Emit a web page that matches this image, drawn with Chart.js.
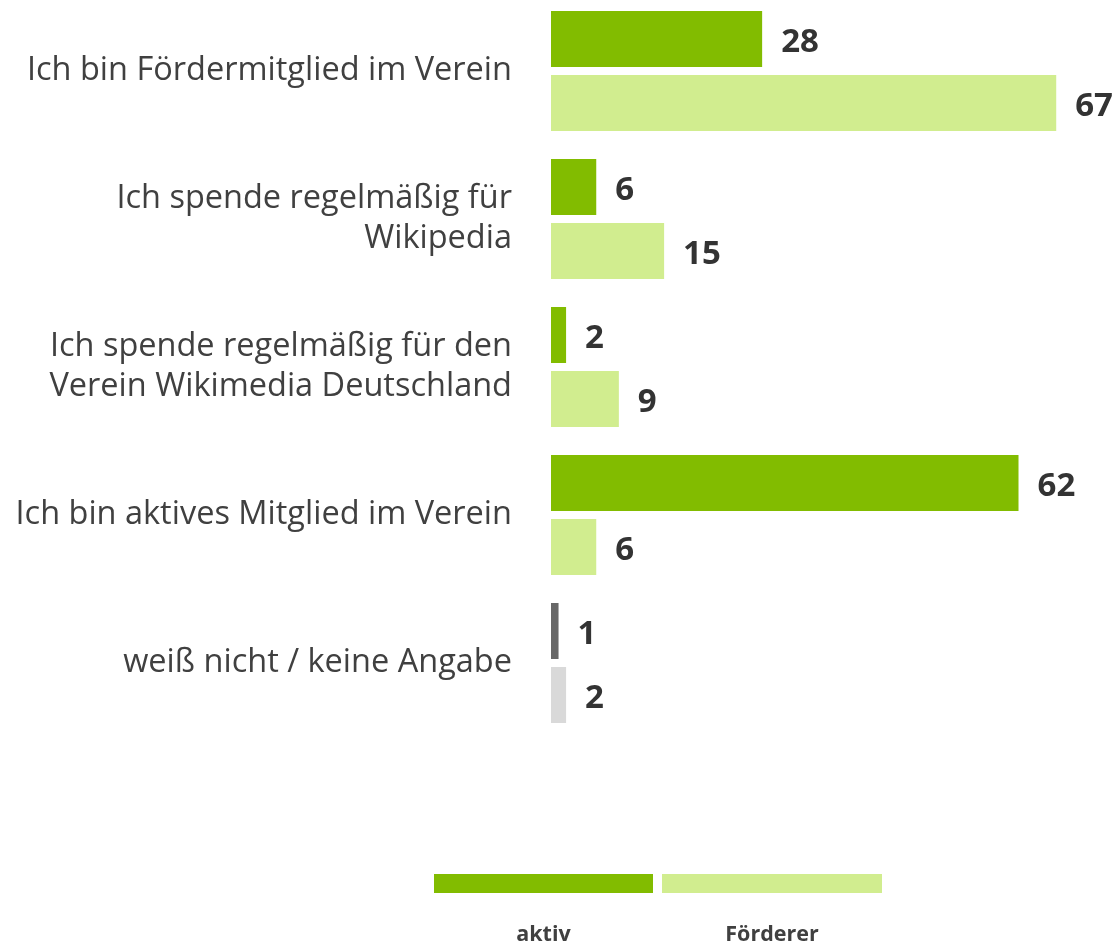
<!DOCTYPE html>
<html><head><meta charset="utf-8">
<script src="https://cdn.jsdelivr.net/npm/chart.js@4"></script>
<style>
html,body{margin:0;padding:0;background:#fff;width:1118px;height:944px;overflow:hidden;position:relative;font-family:"Open Sans",sans-serif;}
#wrap{position:absolute;left:0;top:-3px;width:1118px;height:947px;}
.lg{position:absolute;}
.lgt{position:absolute;font-weight:bold;font-size:21.5px;color:#404040;text-align:center;}
</style></head><body>
<div id="wrap"><canvas id="c" width="1118" height="947"></canvas></div>
<script>
const categories = [
  "Ich bin Fördermitglied im Verein",
  ["Ich spende regelmäßig für", "Wikipedia"],
  ["Ich spende regelmäßig für den", "Verein Wikimedia Deutschland"],
  "Ich bin aktives Mitglied im Verein",
  "weiß nicht / keine Angabe"
];
const seriesNames = ["aktiv", "Förderer"];
const aktiv = [28, 6, 2, 62, 1];
const foerderer = [67, 15, 9, 6, 2];
const aktivColors = ["#82BC00","#82BC00","#82BC00","#82BC00","#676767"];
const foerdererColors = ["#D1ED8F","#D1ED8F","#D1ED8F","#D1ED8F","#D9D9D9"];

const valueLabels = {
  id: 'valueLabels',
  afterDatasetsDraw(chart) {
    const ctx = chart.ctx;
    ctx.save();
    ctx.font = 'bold 33px "Open Sans"';
    ctx.fillStyle = '#333333';
    ctx.textAlign = 'left';
    ctx.textBaseline = 'middle';
    chart.data.datasets.forEach((ds, i) => {
      chart.getDatasetMeta(i).data.forEach((bar, j) => {
        ctx.fillText(String(ds.data[j]), bar.x + 19, bar.y + 4);
      });
    });
    ctx.restore();
  }
};

new Chart(document.getElementById('c'), {
  type: 'bar',
  data: {
    labels: categories,
    datasets: [
      { label: seriesNames[0], data: aktiv, backgroundColor: aktivColors, categoryPercentage: 0.865, barPercentage: 0.875 },
      { label: seriesNames[1], data: foerderer, backgroundColor: foerdererColors, categoryPercentage: 0.865, barPercentage: 0.875 }
    ]
  },
  options: {
    indexAxis: 'y',
    responsive: false,
    animation: false,
    devicePixelRatio: 1,
    layout: { padding: { left: 0, right: 9, top: 0, bottom: 207 } },
    plugins: { legend: { display: false }, tooltip: { enabled: false } },
    scales: {
      x: { display: false, min: 0, max: 74 },
      y: {
        grid: { display: false, drawTicks: false },
        border: { display: false },
        ticks: { padding: 39, color: '#404040', font: { family: '"Open Sans"', size: 32.5, lineHeight: 1.23 } },
        afterFit(scale) { scale.width = 551; scale.paddingTop = 0; scale.paddingBottom = 0; }
      }
    }
  },
  plugins: [valueLabels]
});

// legend
const lgBoxes = [{x:434,w:219,c:aktivColors[0]},{x:662,w:220,c:foerdererColors[0]}];
lgBoxes.forEach((b, i) => {
  const d = document.createElement('div');
  d.className = 'lg';
  d.style.cssText = `left:${b.x}px;top:877px;width:${b.w}px;height:19px;background:${b.c}`;
  document.getElementById('wrap').appendChild(d);
  const t = document.createElement('div');
  t.className = 'lgt';
  t.style.cssText = `left:${b.x}px;top:921px;width:${b.w}px;`;
  t.textContent = seriesNames[i];
  document.getElementById('wrap').appendChild(t);
});
</script>
</body></html>
